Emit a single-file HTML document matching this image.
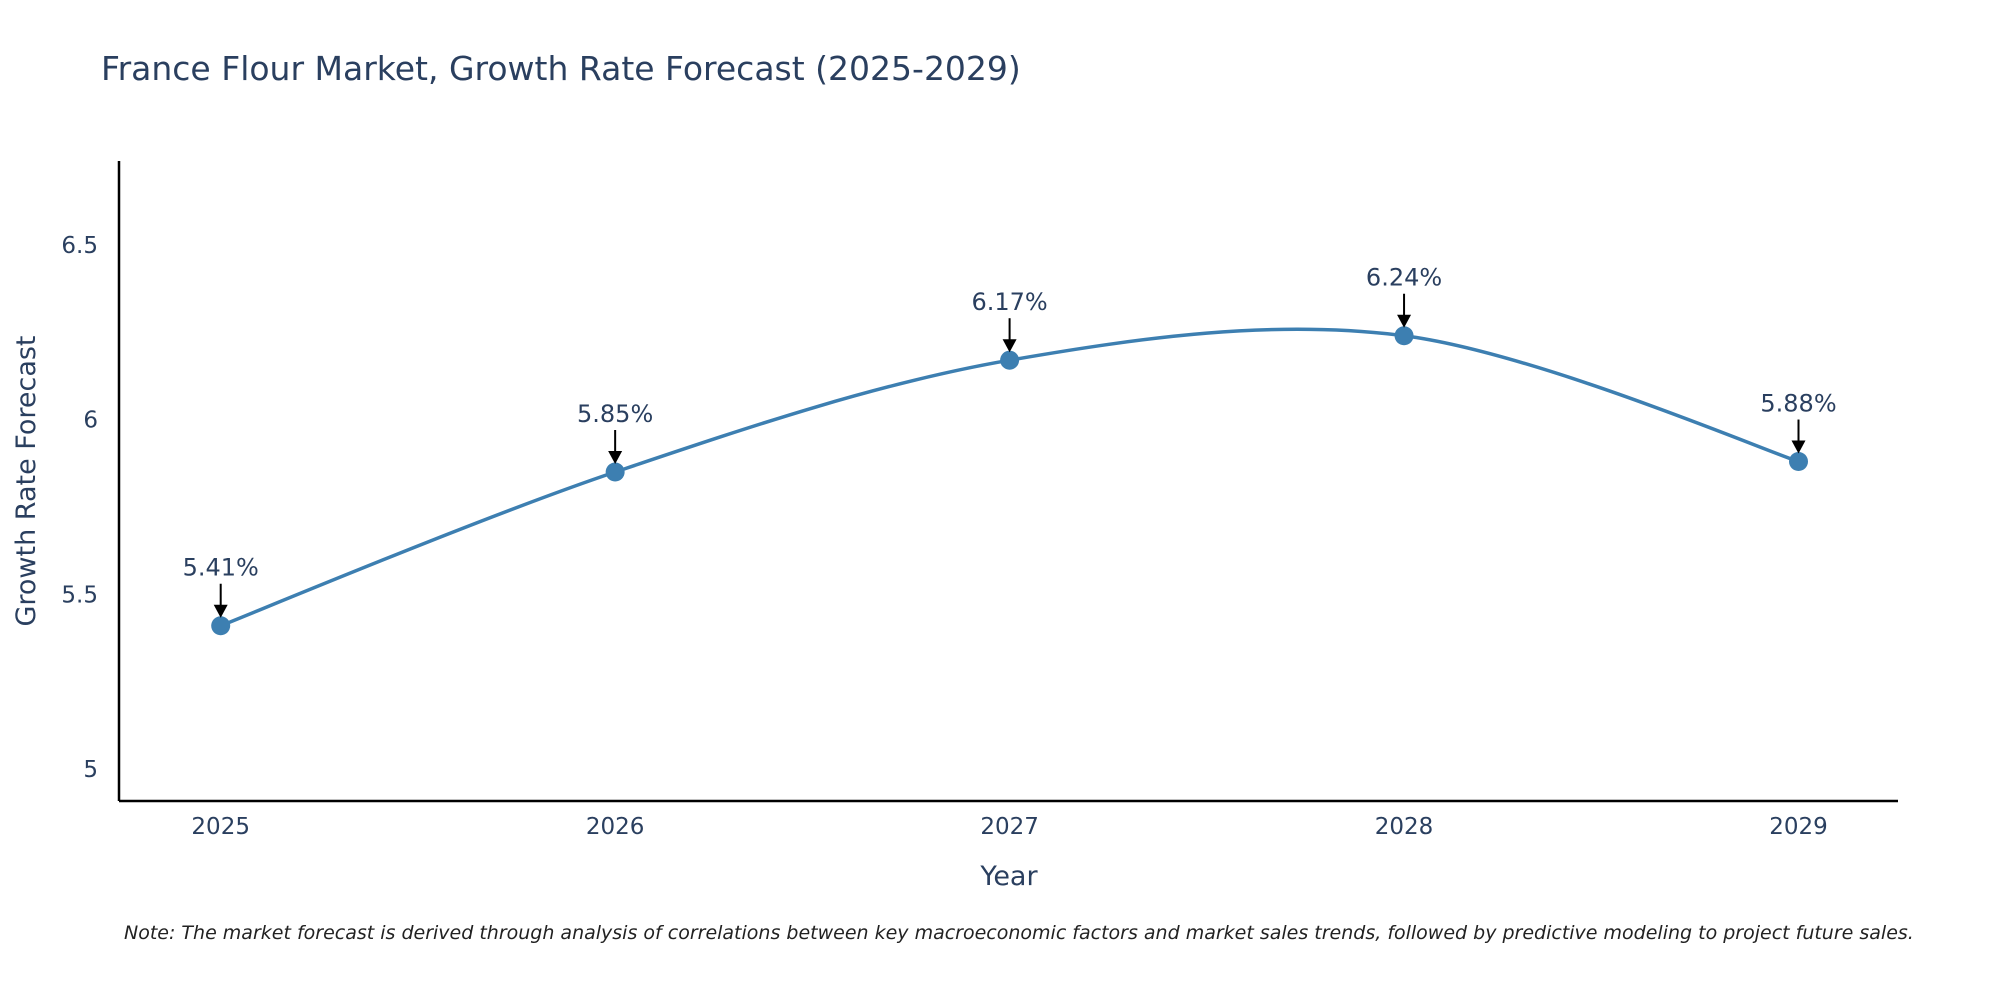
<!DOCTYPE html>
<html><head><meta charset="utf-8">
<style>
html,body{margin:0;padding:0;background:#fff;}
svg{display:block;font-family:"DejaVu Sans","Liberation Sans",sans-serif;}
</style></head>
<body>
<svg id="chart" width="2000" height="1000" viewBox="0 0 2000 1000" xmlns="http://www.w3.org/2000/svg">
<text x="101" y="80" font-size="33" fill="#2a3f5f">France Flour Market, Growth Rate Forecast (2025-2029)</text>
<g id="axes"></g>
<g id="series"></g>
<g id="annots"></g>
<text x="1009" y="885" font-size="27" fill="#2a3f5f" text-anchor="middle">Year</text>
<text transform="translate(35,481) rotate(-90)" font-size="27" fill="#2a3f5f" text-anchor="middle">Growth Rate Forecast</text>
<text x="124" y="939" font-size="19" font-style="italic" fill="#222">Note: The market forecast is derived through analysis of correlations between key macroeconomic factors and market sales trends, followed by predictive modeling to project future sales.</text>
</svg>
<script>
const years = [2025, 2026, 2027, 2028, 2029];
const growth = [5.41, 5.85, 6.17, 6.24, 5.88];
const labels = ["5.41%", "5.85%", "6.17%", "6.24%", "5.88%"];
const yTicks = [5, 5.5, 6, 6.5];
const yTickLabels = ["5", "5.5", "6", "6.5"];

const NS = "http://www.w3.org/2000/svg";
const L = 119, R = 1898, T = 161, B = 801;
const xs = v => 220.7 + (v - 2025) * 394.45;
const ys = v => 769 - (v - 5) * 349.4;
function mk(tag, attrs, parent){const e=document.createElementNS(NS,tag);for(const k in attrs)e.setAttribute(k,attrs[k]);parent.appendChild(e);return e;}
const axes = document.getElementById('axes');
let a = mk('line',{x1:L,y1:T,x2:L,y2:B,stroke:'#000','stroke-width':2.5},axes);


a = mk('line',{x1:L,y1:B,x2:R,y2:B,stroke:'#000','stroke-width':2.5},axes);


yTicks.forEach((t,i)=>{
  const e = mk('text',{x:L-21,y:ys(t)+8,'font-size':23,fill:'#2a3f5f','text-anchor':'end'},axes);
  e.textContent = yTickLabels[i];
  
  
});
years.forEach(y=>{
  const e = mk('text',{x:xs(y),y:B+33,'font-size':23,fill:'#2a3f5f','text-anchor':'middle'},axes);
  e.textContent = String(y);
  
  
});
const pts = years.map((y,i)=>[xs(y),ys(growth[i])]);
let d = `M${pts[0][0]},${pts[0][1]}`;
const s = 0.5;
for(let i=0;i<pts.length-1;i++){
  const p0=pts[Math.max(0,i-1)],p1=pts[i],p2=pts[i+1],p3=pts[Math.min(pts.length-1,i+2)];
  const c1=[p1[0]+(p2[0]-p0[0])*s/3*(i===0?0.5:1), p1[1]+(p2[1]-p0[1])*s/3*(i===0?0.5:1)];
  const last=(i+2>pts.length-1);
  const c2=[p2[0]-(p3[0]-p1[0])*s/3*(last?0.5:1), p2[1]-(p3[1]-p1[1])*s/3*(last?0.5:1)];
  d+=` C${c1[0]},${c1[1]} ${c2[0]},${c2[1]} ${p2[0]},${p2[1]}`;
}
const series = document.getElementById('series');
const line = mk('path',{d:d,fill:'none',stroke:'#3d7fb1','stroke-width':3.5},series);


const an = document.getElementById('annots');
pts.forEach((p,i)=>{
  const c = mk('circle',{cx:p[0],cy:p[1],r:9.5,fill:'#3d7fb1'},series);
  
  
  const l = mk('line',{x1:p[0],y1:p[1]-42,x2:p[0],y2:p[1]-20,stroke:'#000','stroke-width':2},an);
  
  
  const h = mk('polygon',{points:`${p[0]-7},${p[1]-21} ${p[0]+7},${p[1]-21} ${p[0]},${p[1]-8}`,fill:'#000'},an);
  
  
  const t = mk('text',{x:p[0],y:p[1]-50,'font-size':24,fill:'#2a3f5f','text-anchor':'middle'},an);
  t.textContent = labels[i];
  
  
});
</script>
</body></html>
